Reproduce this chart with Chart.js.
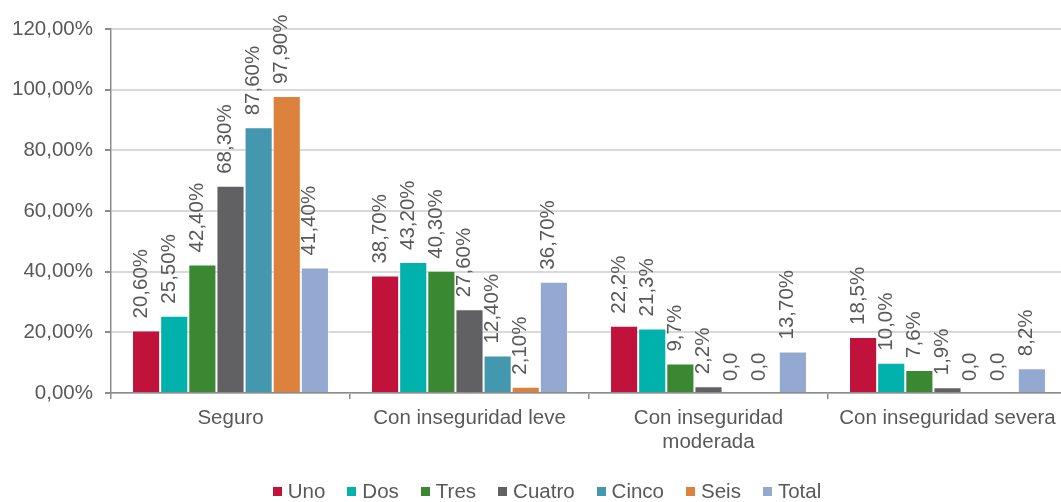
<!DOCTYPE html>
<html>
<head>
<meta charset="utf-8">
<script src="https://cdn.jsdelivr.net/npm/chart.js@4.4.1/dist/chart.umd.min.js"></script>
<style>
  html, body { margin: 0; padding: 0; background: #fff; width: 1061px; height: 502px; overflow: hidden; }
  #wrap { position: absolute; left: 0; top: 0; width: 1070px; height: 502px; }
  #legend {
    position: absolute; left: 0; top: 479px; width: 1094px; height: 24px;
    display: flex; justify-content: center; align-items: center;
    font: 20.5px "Liberation Sans", Arial, sans-serif; color: #595959;
  }
  #legend span.item { display: flex; align-items: center; margin: 0 11px; }
  #legend span.box { width: 9px; height: 9px; margin-right: 6px; display: inline-block; }
</style>
</head>
<body>
<div id="wrap"><canvas id="chart"></canvas></div>
<div id="legend"></div>
<script>
const categories = ['Seguro', 'Con inseguridad leve', ['Con inseguridad', 'moderada'], 'Con inseguridad severa'];
const yTicks = ['0,00%', '20,00%', '40,00%', '60,00%', '80,00%', '100,00%', '120,00%'];

const seriesNames = ['Uno', 'Dos', 'Tres', 'Cuatro', 'Cinco', 'Seis', 'Total'];
const seriesColors = ['#C0123A', '#00B2AB', '#3A8832', '#616163', '#4398AF', '#DD823C', '#94A9D1'];

const uno = [20.6, 38.7, 22.2, 18.5];
const dos = [25.5, 43.2, 21.3, 10.0];
const tres = [42.4, 40.3, 9.7, 7.6];
const cuatro = [68.3, 27.6, 2.2, 1.9];
const cinco = [87.6, 12.4, 0, 0];
const seis = [97.9, 2.1, 0, 0];
const total = [41.4, 36.7, 13.7, 8.2];

// textos de las etiquetas tal como aparecen en el gráfico
const unoLabels = ['20,60%', '38,70%', '22,2%', '18,5%'];
const dosLabels = ['25,50%', '43,20%', '21,3%', '10,0%'];
const tresLabels = ['42,40%', '40,30%', '9,7%', '7,6%'];
const cuatroLabels = ['68,30%', '27,60%', '2,2%', '1,9%'];
const cincoLabels = ['87,60%', '12,40%', '0,0', '0,0'];
const seisLabels = ['97,90%', '2,10%', '0,0', '0,0'];
const totalLabels = ['41,40%', '36,70%', '13,70%', '8,2%'];

const values = [uno, dos, tres, cuatro, cinco, seis, total];
const valueLabels = [unoLabels, dosLabels, tresLabels, cuatroLabels, cincoLabels, seisLabels, totalLabels];

const FONT = '"Liberation Sans", Arial, sans-serif';
const TEXT = '#595959';

// etiquetas verticales encima de cada barra
const barLabels = {
  id: 'barLabels',
  afterDatasetsDraw(chart) {
    const ctx = chart.ctx;
    ctx.save();
    ctx.font = '20.5px ' + FONT;
    ctx.fillStyle = TEXT;
    ctx.textAlign = 'left';
    ctx.textBaseline = 'alphabetic';
    chart.data.datasets.forEach((ds, i) => {
      chart.getDatasetMeta(i).data.forEach((bar, j) => {
        ctx.save();
        ctx.translate(bar.x + 0.5, bar.y - 12);
        ctx.rotate(-Math.PI / 2);
        ctx.fillText(valueLabels[i][j], 0, 0);
        ctx.restore();
      });
    });
    ctx.restore();
  }
};

const ctx = document.getElementById('chart').getContext('2d');
const chart = new Chart(ctx, {
  type: 'bar',
  data: {
    labels: categories,
    datasets: seriesNames.map((name, i) => ({
      label: name,
      data: values[i],
      backgroundColor: seriesColors[i],
      borderColor: 'rgba(255,255,255,0.45)',
      borderWidth: 1,
      categoryPercentage: 0.824,
      barPercentage: 1
    }))
  },
  options: {
    responsive: true,
    maintainAspectRatio: false,
    animation: false,
    layout: { padding: { left: 10, right: 3, top: 29, bottom: 49 } },
    plugins: { legend: { display: false }, tooltip: { enabled: false } },
    scales: {
      x: {
        grid: { drawOnChartArea: false, drawTicks: true, tickLength: 6, color: '#8C8C8C', lineWidth: 1.5 },
        border: { display: true, color: '#8C8C8C', width: 1.5 },
        ticks: { color: TEXT, font: { family: FONT, size: 20.5, lineHeight: 1.17 }, padding: 7, maxRotation: 0, autoSkip: false },
        afterFit: s => { s.height = 60; }
      },
      y: {
        min: 0, max: 120,
        grid: { color: '#D9D9D9', lineWidth: 2, tickLength: 6, tickColor: '#8C8C8C' },
        border: { display: true, color: '#8C8C8C', width: 1.5 },
        ticks: {
          stepSize: 20, color: TEXT, padding: 12,
          font: { family: FONT, size: 20.5 },
          callback: (v) => yTicks[Math.round(v / 20)]
        },
        afterFit: s => { s.width = 101; }
      }
    }
  },
  plugins: [barLabels]
});

// leyenda
const legend = document.getElementById('legend');
seriesNames.forEach((name, i) => {
  const item = document.createElement('span');
  item.className = 'item';
  item.innerHTML = '<span class="box" style="background:' + seriesColors[i] + '"></span>' + name;
  legend.appendChild(item);
});
</script>
</body>
</html>
